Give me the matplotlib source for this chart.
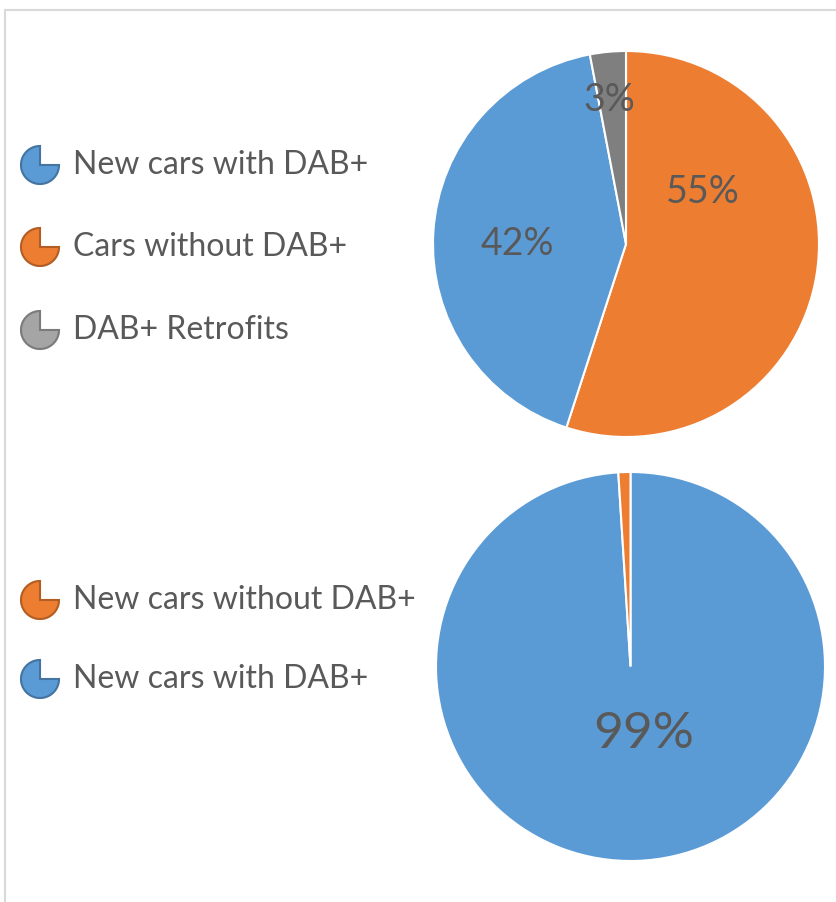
import matplotlib.pyplot as plt
from matplotlib.patches import Wedge, Rectangle

plt.rcParams['font.family'] = ['Lato', 'DejaVu Sans']

# top chart: share of the car fleet
top_labels = ["New cars with DAB+", "Cars without DAB+", "DAB+ Retrofits"]
top_values = [42, 55, 3]
top_colors = ["#5B9BD5", "#ED7D31", "#7F7F7F"]
top_icon_colors = ["#5B9BD5", "#ED7D31", "#A5A5A5"]

# bottom chart: new cars
bottom_labels = ["New cars without DAB+", "New cars with DAB+"]
bottom_values = [1, 99]
bottom_colors = ["#ED7D31", "#5B9BD5"]

text_col = "#595959"
W, H = 836, 902

fig = plt.figure(figsize=(W / 100, H / 100), dpi=100)


def px_axes(x0, y0, w, h):
    # axes from pixel box (top-left origin)
    return fig.add_axes([x0 / W, 1 - (y0 + h) / H, w / W, h / H])


# outer frame
frame = Rectangle((5 / W, -0.1), 1.2, 1 - 10 / H + 0.1, transform=fig.transFigure,
                  fill=False, edgecolor="#D9D9D9", linewidth=1.5)
fig.patches.append(frame)

# --- top pie: clockwise from 12 o'clock: orange, blue, gray
ax1 = px_axes(433, 51, 386, 386)
order = [1, 0, 2]
wedges, texts, autotexts = ax1.pie(
    [top_values[i] for i in order], colors=[top_colors[i] for i in order],
    startangle=90, counterclock=False, autopct="%d%%",
    wedgeprops=dict(edgecolor="white", linewidth=1.5, clip_on=False),
    textprops=dict(color=text_col, fontsize=27))
top_pos = [(0.40, 0.27), (-0.565, 0.0), (-0.085, 0.745)]
for t, p in zip(autotexts, top_pos):
    t.set_position(p)
    t.set_ha("center")
    t.set_va("center")
ax1.set_xlim(-1, 1)
ax1.set_ylim(-1, 1)

# --- bottom pie: clockwise from 12 o'clock: blue 99%, then orange 1%
ax2 = px_axes(436, 472, 389, 389)
wedges2, texts2, autotexts2 = ax2.pie(
    bottom_values[::-1], colors=bottom_colors[::-1],
    startangle=90, counterclock=False, autopct="%d%%",
    wedgeprops=dict(edgecolor="white", linewidth=1.5, clip_on=False),
    textprops=dict(color=text_col, fontsize=37))
autotexts2[0].set_position((0.07, -0.345))
autotexts2[1].set_text("")
ax2.set_xlim(-1, 1)
ax2.set_ylim(-1, 1)

# --- legends with pie-shaped icons
leg = px_axes(0, 0, 430, H)
leg.set_xlim(0, 430)
leg.set_ylim(0, H)
leg.axis("off")


def legend_row(y, label, color):
    yy = H - y
    leg.add_patch(Wedge((40, yy), 19, 90, 360, facecolor=color,
                        edgecolor=color, linewidth=1.5))
    leg.add_patch(Wedge((40, yy), 19, 90, 360, facecolor="none",
                        edgecolor="#00000040", linewidth=1.5))
    leg.text(73, yy, label, color=text_col, fontsize=23, va="center", ha="left")


for y, lab, c in zip([165, 247, 330], top_labels, top_icon_colors):
    legend_row(y, lab, c)
for y, lab, c in zip([600, 679], bottom_labels, bottom_colors):
    legend_row(y, lab, c)

fig.savefig("out.png", dpi=100)
